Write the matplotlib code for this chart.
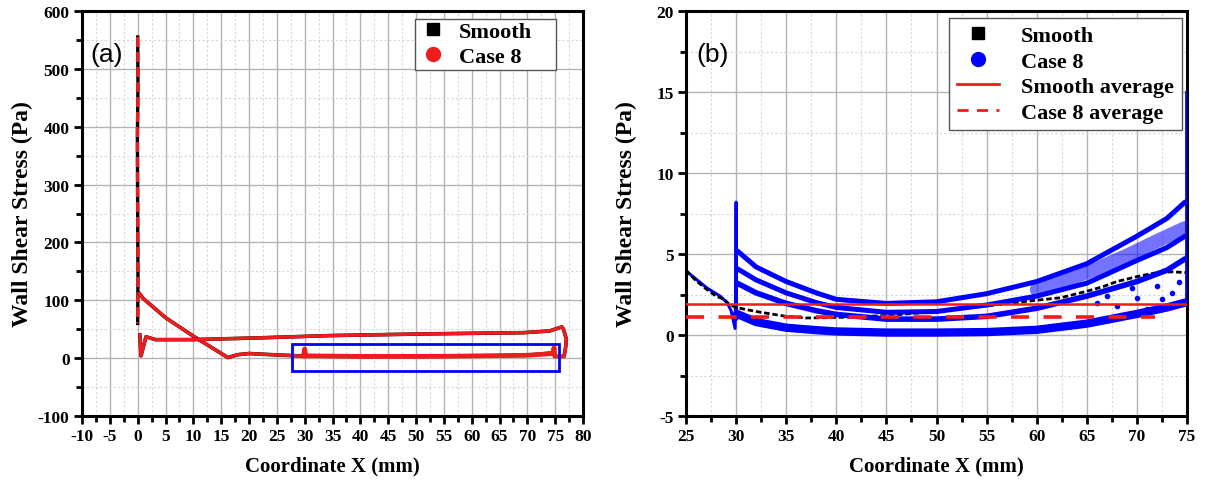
import matplotlib
matplotlib.use('Agg')
import matplotlib.pyplot as plt
from matplotlib.lines import Line2D
from matplotlib.patches import Rectangle
from matplotlib.ticker import MultipleLocator

# ---- panel (a): full wall, Smooth and Case 8 almost on top of each other ----
spike_x = [0.0, 0.05, -0.05, 0.0, 0.05, 0.0]
spike_y = [555, 470, 380, 250, 140, 60]
lower_x = [0.3, 1.0, 5.0, 10.0, 16.2, 18.0, 20.0, 24.0, 27.5, 30.0, 40.0, 50.0, 60.0, 70.0, 74.7]
lower_y = [112, 103, 70, 38, 1, 6, 8, 6, 4.5, 3.5, 3.0, 3.0, 3.5, 5.0, 9.0]
upper_x = [0.4, 0.6, 1.5, 3.2, 9.8, 21.7, 34.5, 52.5, 69.3, 74.0, 76.2, 76.5, 77.0, 76.9, 76.6, 75.0]
upper_y = [40, 4, 37, 32, 32, 35, 39, 42, 44, 47, 54, 50, 33, 20, 3, 3]
band_a_x = [29.8, 30.0, 30.2, 40.0, 55.0, 70.0, 74.6, 74.8, 74.9]
band_a_y = [3.5, 16, 4.0, 3.0, 3.2, 5.0, 8.0, 18, 6]
zoom_box = [27.8, -22.5, 75.6, 25.3]  # x0, y0, x1, y1

# ---- panel (b): zoom 25-75 mm ----
smooth_x = [25, 26, 27, 28, 28.8, 29.3, 30, 32, 35, 37, 40, 45, 50, 55, 60, 62.4, 65, 66.7, 68, 70, 71.7, 73.5, 75]
smooth_y = [4.0, 3.35, 2.85, 2.4, 2.2, 1.9, 1.7, 1.45, 1.15, 1.05, 1.08, 1.2, 1.45, 1.8, 2.15, 2.3, 2.7, 3.0, 3.3, 3.6, 3.82, 3.9, 3.85]
up_x = [25, 27.1, 28.4, 29.1, 29.5, 29.9, 29.95, 30.0, 30.05]
up_y = [3.95, 2.9, 2.4, 2.0, 1.5, 0.4, 2.5, 8.2, 1.0]
band_x = [30.1, 32, 35, 38, 40, 45, 50, 55, 60, 65, 70, 73, 74.8]
band1_y = [5.2, 4.2, 3.3, 2.6, 2.2, 1.95, 2.05, 2.55, 3.3, 4.4, 6.1, 7.2, 8.2]
band2_y = [4.1, 3.4, 2.6, 2.0, 1.7, 1.4, 1.45, 1.85, 2.4, 3.2, 4.6, 5.4, 6.1]
band3_y = [3.2, 2.6, 1.95, 1.5, 1.27, 0.98, 0.98, 1.15, 1.65, 2.4, 3.3, 4.0, 4.7]
bottom_y = [1.3, 0.8, 0.45, 0.3, 0.22, 0.15, 0.15, 0.18, 0.32, 0.7, 1.3, 1.7, 2.0]
cloud_x = [60, 63, 66, 69, 72, 74.8]
cloud_y = [2.8, 3.4, 4.1, 4.9, 5.8, 6.6]
scatter_x = [66, 67, 68, 69.5, 70, 71, 72, 72.5, 73.5, 74.2]
scatter_y = [2.0, 2.4, 1.8, 2.9, 2.3, 1.6, 3.0, 2.2, 2.6, 3.3]
edge_x = [74.95, 74.95]
edge_y = [2.0, 15.0]
smooth_avg = 1.93
case8_avg = 1.13
case8_avg_end = 71.8

RED = '#ee1c1c'
BLUE = '#0000ff'
SERIF = 'Liberation Serif'

plt.rcParams['axes.unicode_minus'] = False
plt.rcParams['font.family'] = SERIF
plt.rcParams['font.weight'] = 'bold'

fig = plt.figure(figsize=(12.08, 4.81), dpi=100)
ax1 = fig.add_axes([82 / 1208, 1 - 417 / 481, 501 / 1208, 405 / 481])
ax2 = fig.add_axes([686 / 1208, 1 - 417 / 481, 501 / 1208, 405 / 481])


def style_axes(ax, xmaj, ymaj):
    ax.xaxis.set_major_locator(MultipleLocator(xmaj))
    ax.xaxis.set_minor_locator(MultipleLocator(xmaj / 2))
    ax.yaxis.set_major_locator(MultipleLocator(ymaj))
    ax.yaxis.set_minor_locator(MultipleLocator(ymaj / 2))
    ax.grid(True, which='major', color='#b4b4b4', lw=1.0, ls='-')
    ax.grid(True, which='minor', color='#d6d6d6', lw=0.8, ls=(0, (2, 2)))
    ax.set_axisbelow(True)
    for s in ax.spines.values():
        s.set_linewidth(2.2)
    ax.tick_params(which='major', direction='out', length=6, width=2.0, labelsize=12.5, pad=3)
    ax.tick_params(which='minor', direction='out', length=4, width=2.0)
    for lab in ax.get_xticklabels() + ax.get_yticklabels():
        lab.set_fontweight('bold')
    ax.set_xlabel('Coordinate X (mm)', fontsize=15, fontweight='bold')
    ax.set_ylabel('Wall Shear Stress (Pa)', fontsize=17, fontweight='bold')
    ax.xaxis.set_label_coords(0.5, -0.097)
    ax.yaxis.set_label_coords(-0.098, 0.5)


# panel (a)
ax1.plot(spike_x, spike_y, color='black', lw=2.4)
ax1.plot(spike_x, spike_y, color=RED, lw=2.4, ls=(0, (3, 1.5)))
ax1.plot(lower_x, lower_y, color='black', lw=2.6)
ax1.plot(lower_x, lower_y, color=RED, lw=2.4)
ax1.plot(upper_x, upper_y, color='black', lw=2.6)
ax1.plot(upper_x, upper_y, color=RED, lw=2.4)
ax1.plot(band_a_x, band_a_y, color=RED, lw=3.4)
ax1.add_patch(Rectangle((zoom_box[0], zoom_box[1]), zoom_box[2] - zoom_box[0], zoom_box[3] - zoom_box[1],
                        fill=False, edgecolor=BLUE, lw=2.0, zorder=5))
ax1.set_xlim(-10, 80)
ax1.set_ylim(-100, 600)
style_axes(ax1, 5, 100)
ax1.text(0.016, 0.894, '(a)', transform=ax1.transAxes, fontsize=19, family='Liberation Sans',
         fontweight='normal', va='center', ha='left')
# legend frame is wider than its content in the original
ax1.add_patch(Rectangle((0.665, 0.854), 0.281, 0.126, transform=ax1.transAxes, facecolor='white',
                        edgecolor='#555555', lw=1.0, zorder=6))
h1 = [Line2D([], [], ls='none', marker='s', color='black', markersize=9),
      Line2D([], [], ls='none', marker='o', color=RED, markersize=10)]
leg1 = ax1.legend(h1, ['Smooth', 'Case 8'], loc='upper left', bbox_to_anchor=(0.665, 0.98),
                  borderaxespad=0, frameon=False,
                  prop={'family': SERIF, 'weight': 'bold', 'size': 16},
                  handlelength=1.45, handletextpad=0.43, labelspacing=0.2, borderpad=0.1)
leg1.set_zorder(7)

# panel (b)
ax2.plot(up_x, up_y, color=BLUE, lw=2.2, zorder=2)
ax2.plot(smooth_x, smooth_y, color='black', lw=2.0, ls=(0, (2, 1)), zorder=3)
ax2.plot(cloud_x, cloud_y, color=BLUE, lw=10, alpha=0.55, solid_capstyle='round', zorder=4)
ax2.plot(scatter_x, scatter_y, ls='none', marker='o', color=BLUE, markersize=3, zorder=4)
for yy, lw in [(bottom_y, 6.0), (band3_y, 4.0), (band2_y, 3.6), (band1_y, 3.6)]:
    ax2.plot(band_x, yy, color=BLUE, lw=lw, solid_capstyle='round', zorder=4)
ax2.plot(edge_x, edge_y, color=BLUE, lw=2.0, zorder=4)
ax2.axhline(smooth_avg, color=RED, lw=1.8, zorder=5)
ax2.plot([25, case8_avg_end], [case8_avg, case8_avg], color=RED, lw=2.6, ls=(0, (5, 4)), zorder=5)
ax2.set_xlim(25, 75)
ax2.set_ylim(-5, 20)
style_axes(ax2, 5, 5)
ax2.text(0.02, 0.894, '(b)', transform=ax2.transAxes, fontsize=19, family='Liberation Sans',
         fontweight='normal', va='center', ha='left')
h2 = [Line2D([], [], ls='none', marker='s', color='black', markersize=9),
      Line2D([], [], ls='none', marker='o', color=BLUE, markersize=10),
      Line2D([], [], color=RED, lw=2),
      Line2D([], [], color=RED, lw=2, ls=(0, (4, 3)))]
leg2 = ax2.legend(h2, ['Smooth', 'Case 8', 'Smooth average', 'Case 8 average'], loc='upper right',
                  bbox_to_anchor=(0.99, 0.983), borderaxespad=0, fancybox=False, edgecolor='#555555',
                  framealpha=1, prop={'family': SERIF, 'weight': 'bold', 'size': 16},
                  handlelength=1.9, handletextpad=1.0, labelspacing=0.22, borderpad=0.35)
leg2.get_frame().set_linewidth(1.0)

fig.savefig('out.png', dpi=100)
